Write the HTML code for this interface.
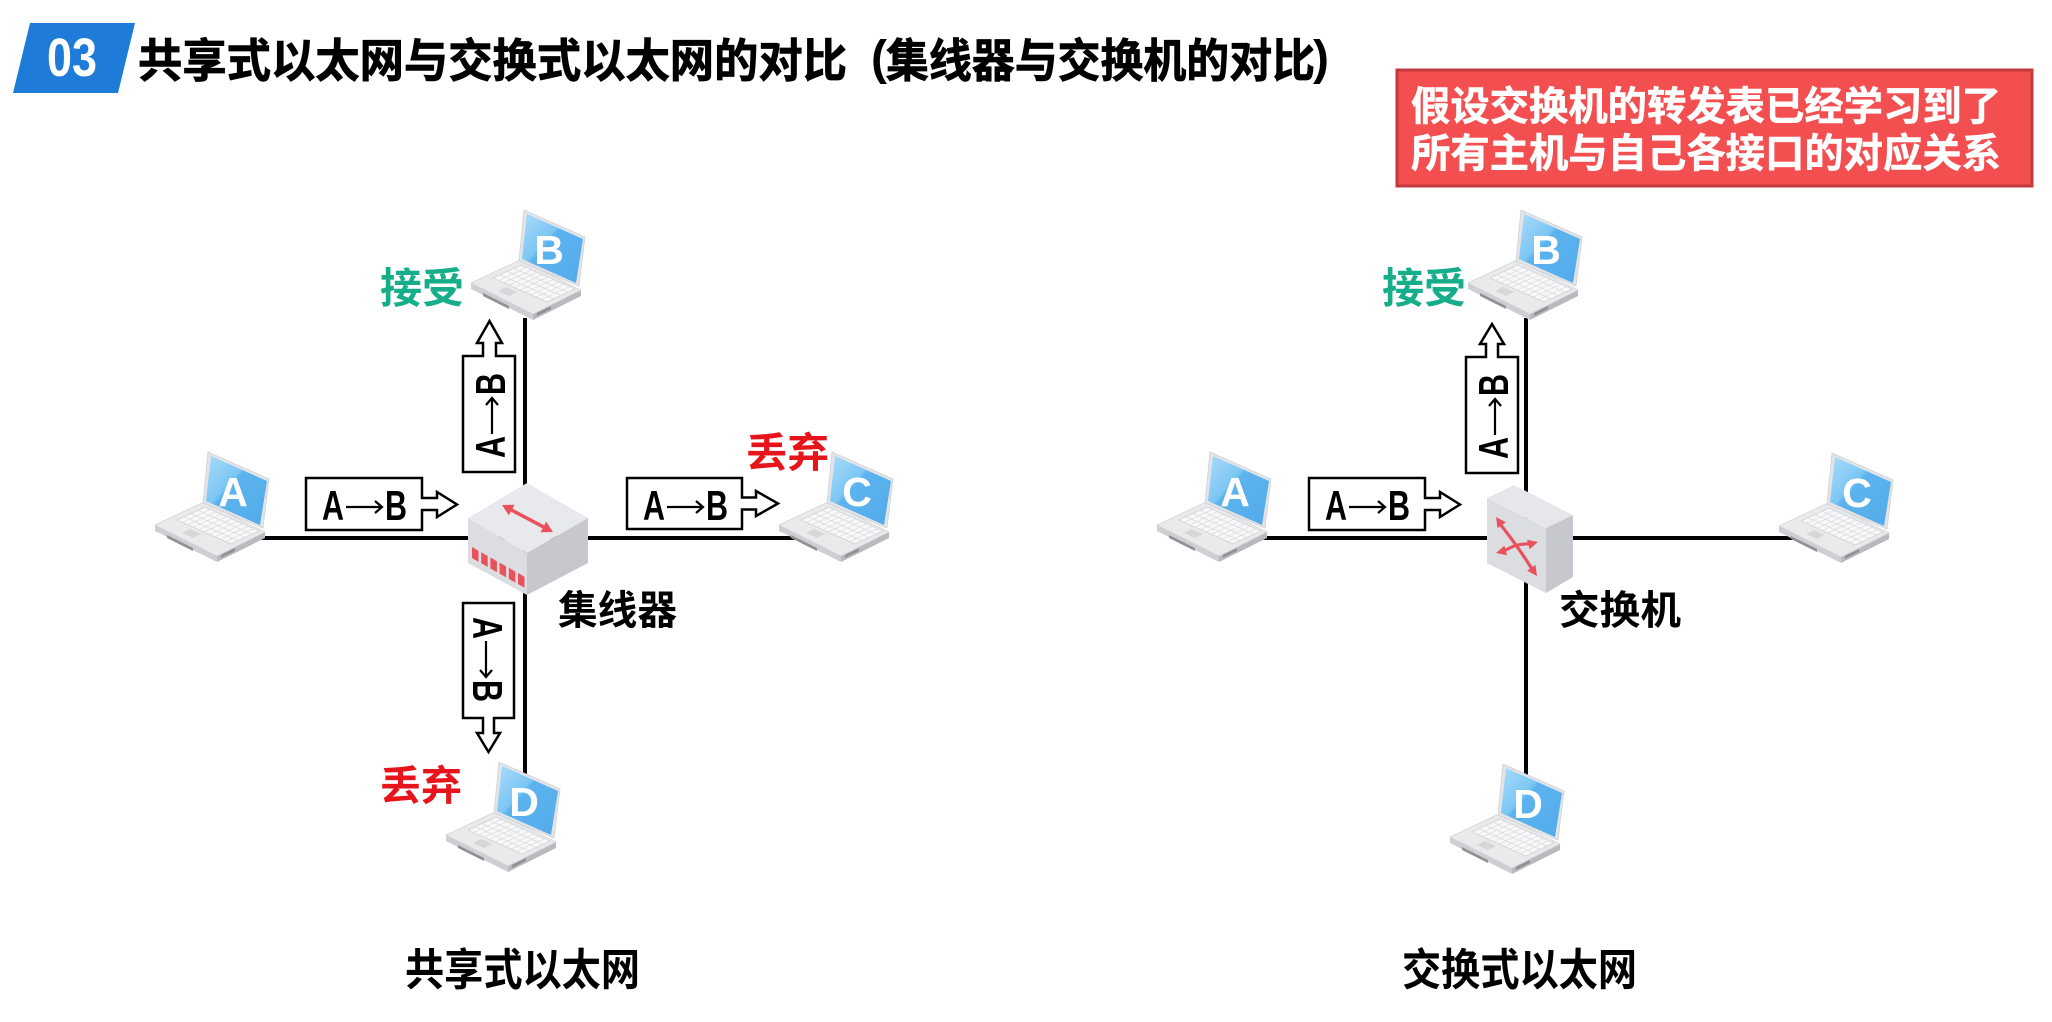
<!DOCTYPE html>
<html>
<head>
<meta charset="utf-8">
<style>
  html,body{margin:0;padding:0;background:#fff;}
  body{width:2052px;height:1022px;overflow:hidden;}
  svg{display:block;}
  .cjk{font-family:"Liberation Sans","Noto Sans CJK SC","WenQuanYi Zen Hei",sans-serif;font-weight:bold;}
  .lat{font-family:"Liberation Sans",sans-serif;}
</style>
</head>
<body>
<svg width="2052" height="1022" viewBox="0 0 2052 1022" xmlns="http://www.w3.org/2000/svg">
  <defs>
    <linearGradient id="scr" x1="0" y1="0" x2="1" y2="1">
      <stop offset="0" stop-color="#a9dbf9"/>
      <stop offset="0.38" stop-color="#7cc6f4"/>
      <stop offset="0.42" stop-color="#5cb3ee"/>
      <stop offset="1" stop-color="#52abea"/>
    </linearGradient>
    <g id="lap">
      <path d="M0,73 L62,104 L62,110 L0,79 Z" fill="#cdcfd3"/>
      <path d="M62,104 L110,80 L110,86 L62,110 Z" fill="#b8babf"/>
      <path d="M0,73 L49,50 L110,80 L62,104 Z" fill="#e9eaec" stroke="#d3d5d8" stroke-width="0.8"/>
      <path d="M22,68 L50,55 L104,79 L76,92 Z" fill="#f8f8fa" stroke="#cfd1d5" stroke-width="0.8"/>
      <g stroke="#d8dadd" stroke-width="0.7">
        <line x1="29" y1="64.75" x2="83" y2="88.75"/>
        <line x1="36" y1="61.5" x2="90" y2="85.5"/>
        <line x1="43" y1="58.25" x2="97" y2="82.25"/>
        <line x1="27.4" y1="70.4" x2="55.4" y2="57.4"/>
        <line x1="32.8" y1="72.8" x2="60.8" y2="59.8"/>
        <line x1="38.2" y1="75.2" x2="66.2" y2="62.2"/>
        <line x1="43.6" y1="77.6" x2="71.6" y2="64.6"/>
        <line x1="49" y1="80" x2="77" y2="67"/>
        <line x1="54.4" y1="82.4" x2="82.4" y2="69.4"/>
        <line x1="59.8" y1="84.8" x2="87.8" y2="71.8"/>
        <line x1="65.2" y1="87.2" x2="93.2" y2="74.2"/>
        <line x1="70.6" y1="89.6" x2="98.6" y2="76.6"/>
      </g>
      <path d="M27,81 L35,77 L46,82 L38,86 Z" fill="#d5d7da"/>
      <path d="M12,83 L38,96 L38,99 L12,86 Z" fill="#8f9196"/>
      <path d="M66,103 L80,96 L80,99 L66,106 Z" fill="#8f9196"/>
      <path d="M53,0 L114,27 L108,76 L48,51 Z" fill="#e3e4e7" stroke="#cfd1d5" stroke-width="0.8"/>
      <path d="M56,4 L112,29 L105,73 L51,49 Z" fill="url(#scr)"/>
    </g>
    <path id="arr" d="M24,-13 H60 M53,-19 L60,-13 L53,-7" fill="none" stroke="#000" stroke-width="2.2"/>
  </defs>

  <!-- Header badge -->
  <path d="M30,23 L135,23 L118,93 L13,93 Z" fill="#1f7bd8"/>
  <text class="lat" x="47" y="76" font-size="54" font-weight="bold" fill="#fff" textLength="50" lengthAdjust="spacingAndGlyphs">03</text>

  <!-- Title -->
  <text class="cjk" x="138" y="77" font-size="46" fill="#000" stroke="#000" stroke-width="0.8" textLength="709" lengthAdjust="spacingAndGlyphs">共享式以太网与交换式以太网的对比</text>
  <text class="lat" x="871" y="74" font-size="48" font-weight="bold" fill="#000">(</text>
  <text class="cjk" x="886" y="77" font-size="46" fill="#000" stroke="#000" stroke-width="0.8" textLength="429" lengthAdjust="spacingAndGlyphs">集线器与交换机的对比</text>
  <text class="lat" x="1313" y="74" font-size="48" font-weight="bold" fill="#000">)</text>

  <!-- Red note box -->
  <rect x="1397" y="70" width="635" height="116" fill="#f34e50" stroke="#c23a3c" stroke-width="3"/>
  <text class="cjk" x="1411" y="120" font-size="40" fill="#fff" stroke="#fff" stroke-width="0.5" textLength="590" lengthAdjust="spacingAndGlyphs">假设交换机的转发表已经学习到了</text>
  <text class="cjk" x="1411" y="167" font-size="40" fill="#fff" stroke="#fff" stroke-width="0.5" textLength="590" lengthAdjust="spacingAndGlyphs">所有主机与自己各接口的对应关系</text>

  <!-- ============ LEFT: hub ============ -->
  <g stroke="#000" stroke-width="4" fill="none">
    <line x1="253" y1="538" x2="800" y2="538"/>
    <line x1="525" y1="318" x2="525" y2="775"/>
  </g>

  <path d="M527,483 L588,518 L527,553 L468,518 Z" fill="#e8e9ec"/>
  <path d="M468,518 L527,553 L527,595 L468,563 Z" fill="#dcdde1"/>
  <path d="M527,553 L588,518 L588,563 L527,595 Z" fill="#c6c8ce"/>
  <g fill="#e9525c">
    <path d="M472,547 l6.5,3.8 v11 l-6.5,-3.8 z"/>
    <path d="M481.2,552.2 l6.5,3.8 v11 l-6.5,-3.8 z"/>
    <path d="M490.4,557.4 l6.5,3.8 v11 l-6.5,-3.8 z"/>
    <path d="M499.6,562.6 l6.5,3.8 v11 l-6.5,-3.8 z"/>
    <path d="M508.8,567.8 l6.5,3.8 v11 l-6.5,-3.8 z"/>
    <path d="M518,573 l6.5,3.8 v11 l-6.5,-3.8 z"/>
    <line x1="508" y1="508.2" x2="547" y2="528.8" stroke="#e9525c" stroke-width="3.5"/>
    <path d="M553,532 L540.5,532.2 L546.1,521.6 Z"/>
    <path d="M502,505 L508.9,515.4 L514.5,504.8 Z"/>
  </g>

  <g fill="#fff" stroke="#000" stroke-width="2.5" stroke-linejoin="miter">
    <path d="M306,478 H422 V498 H437 V492 L457,504.5 L437,517 V510 H422 V530 H306 Z"/>
    <path d="M627,478 H742 V497.5 H756 V491 L778,503.5 L756,516 V509.5 H742 V529 H627 Z"/>
    <path d="M463,472 V356 H483 V343 H477 L489.5,321 L502,343 H496 V356 H515 V472 Z"/>
    <path d="M463,603 H514 V718 H494 V733 H500 L488.5,752 L477,733 H483 V718 H463 Z"/>
  </g>

  <!-- A→B labels (left) -->
  <g class="lat" font-size="42" font-weight="bold" fill="#000">
    <g transform="translate(322,520)">
      <text x="0" y="0" textLength="22" lengthAdjust="spacingAndGlyphs">A</text>
      <use href="#arr"/>
      <text x="63" y="0" textLength="22" lengthAdjust="spacingAndGlyphs">B</text>
    </g>
    <g transform="translate(643,520)">
      <text x="0" y="0" textLength="22" lengthAdjust="spacingAndGlyphs">A</text>
      <use href="#arr"/>
      <text x="63" y="0" textLength="22" lengthAdjust="spacingAndGlyphs">B</text>
    </g>
    <g transform="translate(505,458) rotate(-90)">
      <text x="0" y="0" textLength="22" lengthAdjust="spacingAndGlyphs">A</text>
      <use href="#arr"/>
      <text x="63" y="0" textLength="22" lengthAdjust="spacingAndGlyphs">B</text>
    </g>
    <g transform="translate(473,617) rotate(90)">
      <text x="0" y="0" textLength="22" lengthAdjust="spacingAndGlyphs">A</text>
      <use href="#arr"/>
      <text x="63" y="0" textLength="22" lengthAdjust="spacingAndGlyphs">B</text>
    </g>
  </g>

  <use href="#lap" x="155" y="452"/>
  <use href="#lap" x="471" y="210"/>
  <use href="#lap" x="779" y="452"/>
  <use href="#lap" x="446" y="762"/>
  <g class="lat" font-size="41" font-weight="bold" fill="#fff" text-anchor="middle">
    <text x="233" y="506">A</text>
    <text x="549" y="264">B</text>
    <text x="857" y="506">C</text>
    <text x="524" y="816">D</text>
  </g>

  <text class="cjk" x="380" y="303" font-size="42" fill="#16ae8a" textLength="84" lengthAdjust="spacingAndGlyphs">接受</text>
  <text class="cjk" x="746" y="467" font-size="41" fill="#e8141c" textLength="83" lengthAdjust="spacingAndGlyphs">丢弃</text>
  <text class="cjk" x="380" y="800" font-size="41" fill="#e8141c" textLength="82" lengthAdjust="spacingAndGlyphs">丢弃</text>
  <text class="cjk" x="558" y="624" font-size="40" fill="#000" textLength="119" lengthAdjust="spacingAndGlyphs">集线器</text>
  <text class="cjk" x="405" y="985" font-size="44" fill="#000" textLength="235" lengthAdjust="spacingAndGlyphs">共享式以太网</text>

  <!-- ============ RIGHT: switch ============ -->
  <g stroke="#000" stroke-width="4" fill="none">
    <line x1="1255" y1="538" x2="1800" y2="538"/>
    <line x1="1526" y1="318" x2="1526" y2="775"/>
  </g>

  <path d="M1487,498 L1514,485 L1573,515 L1546,528 Z" fill="#e6e7ea"/>
  <path d="M1487,498 L1546,528 L1546,593 L1487,563 Z" fill="#dcdde1"/>
  <path d="M1546,528 L1573,515 L1573,577 L1546,593 Z" fill="#c6c8ce"/>
  <g fill="#e9525c" stroke="none">
    <path d="M1500,524 Q1517,545 1532,569" fill="none" stroke="#e9525c" stroke-width="3.2"/>
    <path d="M1504,551 Q1517,543 1530,544" fill="none" stroke="#e9525c" stroke-width="3.2"/>
    <path d="M1537,576 L1527.2,570.7 L1535.4,564.9 Z"/>
    <path d="M1496,517 L1497.6,528.1 L1505.8,522.3 Z"/>
    <path d="M1538,542 L1529.6,549.3 L1527,539.7 Z"/>
    <path d="M1496,553 L1507,555.3 L1504.4,545.7 Z"/>
  </g>

  <g fill="#fff" stroke="#000" stroke-width="2.5">
    <path d="M1309,478 H1425 V498 H1440 V492 L1460,504.5 L1440,517 V510 H1425 V530 H1309 Z"/>
    <path d="M1466,473 V357 H1486 V344 H1480 L1492,324 L1504,344 H1498 V357 H1518 V473 Z"/>
  </g>
  <g class="lat" font-size="42" font-weight="bold" fill="#000">
    <g transform="translate(1325,520)">
      <text x="0" y="0" textLength="22" lengthAdjust="spacingAndGlyphs">A</text>
      <use href="#arr"/>
      <text x="63" y="0" textLength="22" lengthAdjust="spacingAndGlyphs">B</text>
    </g>
    <g transform="translate(1508,459) rotate(-90)">
      <text x="0" y="0" textLength="22" lengthAdjust="spacingAndGlyphs">A</text>
      <use href="#arr"/>
      <text x="63" y="0" textLength="22" lengthAdjust="spacingAndGlyphs">B</text>
    </g>
  </g>

  <use href="#lap" x="1157" y="452"/>
  <use href="#lap" x="1468" y="210"/>
  <use href="#lap" x="1779" y="453"/>
  <use href="#lap" x="1450" y="764"/>
  <g class="lat" font-size="41" font-weight="bold" fill="#fff" text-anchor="middle">
    <text x="1235" y="506">A</text>
    <text x="1546" y="264">B</text>
    <text x="1857" y="507">C</text>
    <text x="1528" y="818">D</text>
  </g>

  <text class="cjk" x="1382" y="303" font-size="42" fill="#16ae8a" textLength="84" lengthAdjust="spacingAndGlyphs">接受</text>
  <text class="cjk" x="1559" y="624" font-size="40" fill="#000" textLength="122" lengthAdjust="spacingAndGlyphs">交换机</text>
  <text class="cjk" x="1402" y="985" font-size="44" fill="#000" textLength="235" lengthAdjust="spacingAndGlyphs">交换式以太网</text>
</svg>
</body>
</html>
